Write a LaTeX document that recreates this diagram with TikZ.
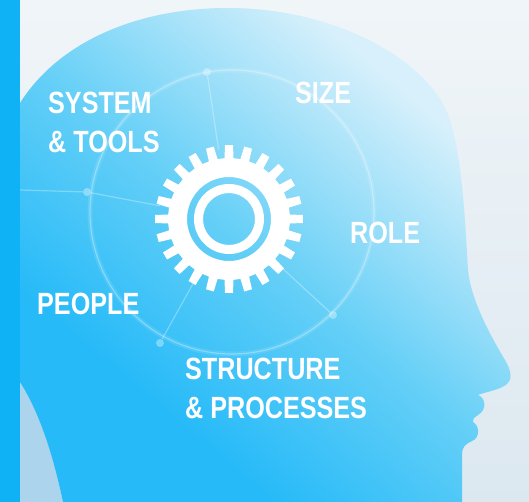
\documentclass[tikz,border=0pt]{standalone}
\usepackage{fontspec}
\newfontfamily\tagfont{Liberation Sans}[FakeStretch=0.82]
\definecolor{BarBlue}{RGB}{16,178,246}
\definecolor{HeadDeep}{RGB}{38,186,248}
\definecolor{HeadMid}{RGB}{100,207,247}
\definecolor{HeadLight}{RGB}{215,240,251}
\definecolor{BackTop}{RGB}{240,245,248}
\definecolor{BackBottom}{RGB}{220,232,240}
\definecolor{NeckShade}{RGB}{172,212,236}
\pgfdeclareverticalshading{headshade}{100bp}{color(0bp)=(HeadDeep); color(32bp)=(HeadDeep); color(50bp)=(HeadMid); color(72bp)=(HeadLight); color(100bp)=(HeadLight)}

\begin{document}
\begin{tikzpicture}[
    x=1pt, y=-1pt,
    tag/.style={text=white, anchor=north west, inner sep=0pt, align=left,
        font=\tagfont\bfseries\fontsize{30.7}{39}\selectfont},
    glowline/.style={white, line width=1.2pt, opacity=0.3},
    glowspot/.style={circle, fill=white, opacity=0.35, inner sep=0pt, minimum size=8pt},
]
\useasboundingbox (0,0) rectangle (529,502);

% background and the strip down the left
\shade[top color=BackTop, bottom color=BackBottom] (0,0) rectangle (529,502);
\fill[NeckShade] (20,370) .. controls (38,410) and (52,450) .. (63,502) -- (20,502) -- cycle;

% head in profile
\shade[shading=headshade, shading angle=-40]
    (0,125) -- (20,103) .. controls (60,40) and (140,8) .. (228,8)
    .. controls (330,8) and (420,55) .. (446,110)
    .. controls (462,145) and (465,220) .. (468,270)
    .. controls (471,300) and (490,335) .. (505,360)
    .. controls (512,372) and (512,380) .. (507,384)
    .. controls (500,390) and (485,392) .. (478,395)
    .. controls (486,398) and (487,410) .. (478,415)
    .. controls (474,418) and (472,419) .. (473,422)
    .. controls (480,426) and (480,438) .. (472,441)
    .. controls (466,444) and (462,446) .. (462,455)
    -- (462,502) -- (63,502)
    .. controls (52,450) and (38,410) .. (20,382) -- (0,370) -- cycle;

\fill[BarBlue] (0,0) rectangle (20,502);

% glow ring and spokes
\coordinate (gear) at (229,219);
\coordinate (ringc) at (232,212);
\coordinate (edgeL) at (20,190);
\node[glowspot] (spotL) at (87,192) {};
\node[glowspot] (spotT) at (207,72) {};
\node[glowspot] (spotBL) at (160,343) {};
\node[glowspot] (spotBR) at (333,315) {};
\draw[glowline] (ringc) circle (142);
\draw[white, line width=5pt, opacity=0.1] (ringc) circle (142);
\foreach \s in {spotL, spotT, spotBL, spotBR}
    \draw[glowline, shorten <=70pt] (gear) -- (\s);
\draw[glowline] (spotL) -- (edgeL);

% gear
\fill[white, even odd rule, shift={(229,219)}]
    (-4.2:61)
    \foreach \t in {0,...,23} {
        -- ({\t*15-4.2}:61) -- ({\t*15-3.1}:74)
        -- ({\t*15+3.1}:74) -- ({\t*15+4.2}:61)
    } -- cycle
    (0,0) circle (42) (0,0) circle (35) (0,0) circle (26);

% labels
\node[tag] (system) at (48,92) {SYSTEM\\\& TOOLS};
\node[tag] (size) at (295,82) {SIZE};
\node[tag] (role) at (350,222) {ROLE};
\node[tag] (people) at (37,293) {PEOPLE};
\node[tag] (structure) at (185,358) {STRUCTURE\\\& PROCESSES};

\end{tikzpicture}
\end{document}
